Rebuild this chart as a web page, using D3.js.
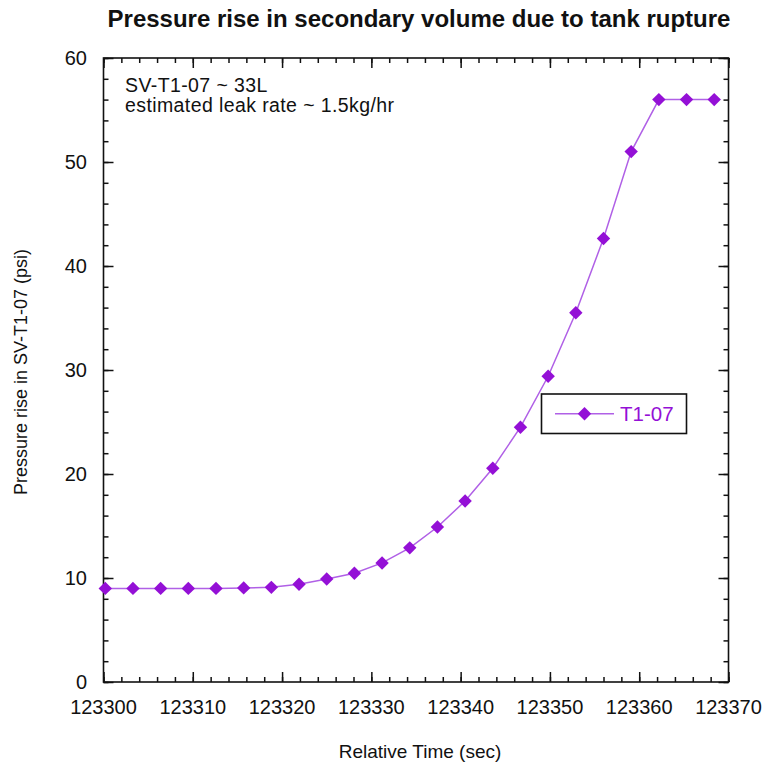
<!DOCTYPE html>
<html>
<head>
<meta charset="utf-8">
<script src="https://cdn.jsdelivr.net/npm/d3@7"></script>
<style>
  html, body { margin: 0; padding: 0; background: #fff; }
  svg { display: block; font-family: "Liberation Sans", Arial, Helvetica, sans-serif; }
</style>
</head>
<body>
<svg id="chart" width="763" height="766"></svg>
<script>
// Relative time of each sample (sec)
const times = [
  123300.2, 123303.3, 123306.4, 123309.5, 123312.6, 123315.7, 123318.8,
  123321.9, 123325.0, 123328.1, 123331.2, 123334.3, 123337.4, 123340.5,
  123343.6, 123346.7, 123349.8, 123352.9, 123356.0, 123359.1, 123362.2,
  123365.3, 123368.4
];
// Pressure rise in SV-T1-07 (psi)
const pressureT107 = [
  9.0, 9.0, 9.0, 9.0, 9.0, 9.05, 9.1,
  9.4, 9.9, 10.45, 11.45, 12.9, 14.9, 17.4,
  20.55, 24.5, 29.4, 35.5, 42.65, 51.0, 56.0,
  56.0, 56.0
];
const xTicks = [123300, 123310, 123320, 123330, 123340, 123350, 123360, 123370];
const yTicks = [0, 10, 20, 30, 40, 50, 60];
const seriesName = "T1-07";
const notes = ["SV-T1-07 ~ 33L", "estimated leak rate ~ 1.5kg/hr"];

const W = 763, H = 766;
const m = { left: 103.5, right: 728.5, top: 58, bottom: 682 };
const lineColor = "#b060e6";
const markColor = "#9410d6";

const svg = d3.select("#chart");
const x = d3.scaleLinear().domain([123300, 123370]).range([m.left, m.right]);
const y = d3.scaleLinear().domain([0, 60]).range([m.bottom, m.top]);

const minorX = d3.range(123300, 123370.01, 2);
const minorY = d3.range(0, 60.01, 2);

// Inward ticks on all four sides (major every 10, minor every 2 units)
function tickAxis(axisFn, scale, transform, len, values) {
  const a = axisFn(scale).tickValues(values).tickSizeInner(len).tickSizeOuter(0).tickFormat("");
  const g = svg.append("g").attr("transform", transform).call(a);
  g.select(".domain").remove();
  g.selectAll(".tick line").attr("stroke", "#111").attr("stroke-width", 1.5);
  return g;
}
tickAxis(d3.axisTop, x, `translate(0,${m.bottom})`, 5, minorX);
tickAxis(d3.axisTop, x, `translate(0,${m.bottom})`, 10, xTicks);
tickAxis(d3.axisBottom, x, `translate(0,${m.top})`, 5, minorX);
tickAxis(d3.axisBottom, x, `translate(0,${m.top})`, 10, xTicks);
tickAxis(d3.axisRight, y, `translate(${m.left},0)`, 5, minorY);
tickAxis(d3.axisRight, y, `translate(${m.left},0)`, 10, yTicks);
tickAxis(d3.axisLeft, y, `translate(${m.right},0)`, 5, minorY);
tickAxis(d3.axisLeft, y, `translate(${m.right},0)`, 10, yTicks);

// Tick labels
svg.append("g").selectAll("text").data(xTicks).join("text")
  .attr("x", d => x(d)).attr("y", 713.5)
  .attr("text-anchor", "middle").attr("font-size", 20).attr("fill", "#111")
  .text(d3.format("d"));
svg.append("g").selectAll("text").data(yTicks).join("text")
  .attr("x", 87).attr("y", d => y(d)).attr("dy", "0.35em")
  .attr("text-anchor", "end").attr("font-size", 20).attr("fill", "#111")
  .text(d3.format("d"));

// Frame
svg.append("rect")
  .attr("x", m.left).attr("y", m.top)
  .attr("width", m.right - m.left).attr("height", m.bottom - m.top)
  .attr("fill", "none").attr("stroke", "#111").attr("stroke-width", 1.6);

// Series line and diamond markers
const data = times.map((t, i) => ({ t, p: pressureT107[i] }));
svg.append("path").datum(data)
  .attr("fill", "none").attr("stroke", lineColor).attr("stroke-width", 1.5)
  .attr("d", d3.line().x(d => x(d.t)).y(d => y(d.p)));

const diamond = d3.symbol().type(d3.symbolSquare).size(90);
svg.append("g").selectAll("path").data(data).join("path")
  .attr("d", diamond)
  .attr("transform", d => `translate(${x(d.t)},${y(d.p)}) rotate(45)`)
  .attr("fill", markColor);

// Notes in the upper left
svg.append("g").selectAll("text").data(notes).join("text")
  .attr("x", 125).attr("y", (d, i) => 91.5 + i * 20.5)
  .attr("font-size", 19.5).attr("letter-spacing", 0.4).attr("fill", "#111")
  .text(d => d);

// Legend
const lg = svg.append("g");
lg.append("rect").attr("x", 541.5).attr("y", 394).attr("width", 145).attr("height", 39.5)
  .attr("fill", "#fff").attr("stroke", "#111").attr("stroke-width", 1.6);
lg.append("line").attr("x1", 555).attr("x2", 614).attr("y1", 413.8).attr("y2", 413.8)
  .attr("stroke", lineColor).attr("stroke-width", 1.5);
lg.append("path").attr("d", diamond)
  .attr("transform", "translate(584.5,413.8) rotate(45)").attr("fill", markColor);
lg.append("text").attr("x", 620).attr("y", 421)
  .attr("font-size", 20.5).attr("fill", markColor).text(seriesName);

// Title and axis titles
svg.append("text").attr("x", 419).attr("y", 26.5)
  .attr("text-anchor", "middle").attr("font-size", 24).attr("font-weight", "bold")
  .attr("fill", "#111").text("Pressure rise in secondary volume due to tank rupture");
svg.append("text").attr("x", 420).attr("y", 758)
  .attr("text-anchor", "middle").attr("font-size", 19).attr("fill", "#111")
  .text("Relative Time (sec)");
svg.append("text")
  .attr("transform", "translate(27,372) rotate(-90)")
  .attr("text-anchor", "middle").attr("font-size", 18).attr("fill", "#111")
  .text("Pressure rise in SV-T1-07 (psi)");
</script>
</body>
</html>
